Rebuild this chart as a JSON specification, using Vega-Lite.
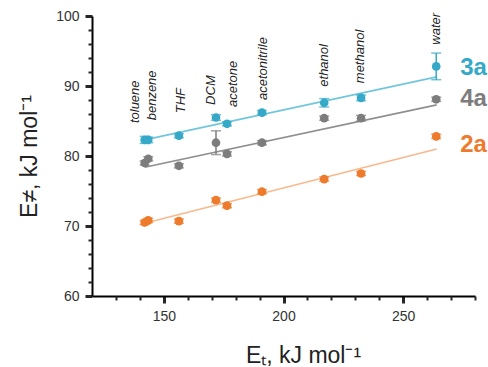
{
  "$schema": "https://vega.github.io/schema/vega-lite/v6.json",
  "width": 383,
  "height": 280,
  "autosize": "none",
  "padding": {"left": 92, "top": 16, "right": 13, "bottom": 71},
  "background": "white",
  "config": {"view": {"stroke": null}, "font": "Liberation Sans", "axis": {"grid": false}},
  "datasets": {
    "points": [
      {"solvent": "toluene", "series": "3a", "ET": 142.0, "E": 82.3, "err": 0.5},
      {"solvent": "benzene", "series": "3a", "ET": 143.5, "E": 82.3, "err": 0.4},
      {"solvent": "THF", "series": "3a", "ET": 156.3, "E": 82.9, "err": 0.3},
      {"solvent": "DCM", "series": "3a", "ET": 171.8, "E": 85.5, "err": 0.4},
      {"solvent": "acetone", "series": "3a", "ET": 176.4, "E": 84.6, "err": 0.3},
      {"solvent": "acetonitrile", "series": "3a", "ET": 191.0, "E": 86.2, "err": 0.3},
      {"solvent": "ethanol", "series": "3a", "ET": 217.0, "E": 87.6, "err": 0.6},
      {"solvent": "methanol", "series": "3a", "ET": 232.4, "E": 88.3, "err": 0.4},
      {"solvent": "water", "series": "3a", "ET": 263.8, "E": 92.8, "err": 1.9},
      {"solvent": "toluene", "series": "4a", "ET": 142.0, "E": 79.0, "err": 0.3},
      {"solvent": "benzene", "series": "4a", "ET": 143.5, "E": 79.6, "err": 0.3},
      {"solvent": "THF", "series": "4a", "ET": 156.3, "E": 78.6, "err": 0.3},
      {"solvent": "DCM", "series": "4a", "ET": 171.8, "E": 81.9, "err": 1.7},
      {"solvent": "acetone", "series": "4a", "ET": 176.4, "E": 80.3, "err": 0.3},
      {"solvent": "acetonitrile", "series": "4a", "ET": 191.0, "E": 81.9, "err": 0.3},
      {"solvent": "ethanol", "series": "4a", "ET": 217.0, "E": 85.4, "err": 0.3},
      {"solvent": "methanol", "series": "4a", "ET": 232.4, "E": 85.4, "err": 0.4},
      {"solvent": "water", "series": "4a", "ET": 263.8, "E": 88.1, "err": 0.3},
      {"solvent": "toluene", "series": "2a", "ET": 142.0, "E": 70.5, "err": 0.3},
      {"solvent": "benzene", "series": "2a", "ET": 143.5, "E": 70.8, "err": 0.3},
      {"solvent": "THF", "series": "2a", "ET": 156.3, "E": 70.7, "err": 0.3},
      {"solvent": "DCM", "series": "2a", "ET": 171.8, "E": 73.7, "err": 0.3},
      {"solvent": "acetone", "series": "2a", "ET": 176.4, "E": 72.9, "err": 0.3},
      {"solvent": "acetonitrile", "series": "2a", "ET": 191.0, "E": 74.9, "err": 0.3},
      {"solvent": "ethanol", "series": "2a", "ET": 217.0, "E": 76.7, "err": 0.3},
      {"solvent": "methanol", "series": "2a", "ET": 232.4, "E": 77.5, "err": 0.3},
      {"solvent": "water", "series": "2a", "ET": 263.8, "E": 82.8, "err": 0.3}
    ],
    "fits": [
      {"series": "3a", "ET": 142.0, "E": 82.3},
      {"series": "3a", "ET": 264.0, "E": 91.3},
      {"series": "4a", "ET": 142.0, "E": 78.4},
      {"series": "4a", "ET": 264.0, "E": 87.3},
      {"series": "2a", "ET": 142.0, "E": 70.4},
      {"series": "2a", "ET": 264.0, "E": 81.0}
    ],
    "solventLabels": [
      {"solvent": "toluene", "ET": 138.0, "E": 84.7},
      {"solvent": "benzene", "ET": 145.2, "E": 85.1},
      {"solvent": "THF", "ET": 157.0, "E": 86.1},
      {"solvent": "DCM", "ET": 169.6, "E": 87.3},
      {"solvent": "acetone", "ET": 178.8, "E": 87.0},
      {"solvent": "acetonitrile", "ET": 191.4, "E": 88.0},
      {"solvent": "ethanol", "ET": 217.0, "E": 89.9},
      {"solvent": "methanol", "ET": 232.0, "E": 90.4},
      {"solvent": "water", "ET": 263.7, "E": 95.9}
    ],
    "seriesLabels": [
      {"series": "3a", "ET": 273.8, "E": 91.6},
      {"series": "4a", "ET": 273.8, "E": 87.1},
      {"series": "2a", "ET": 273.8, "E": 80.6}
    ]
  },
  "layer": [
    {
      "encoding": {
        "x": {
          "field": "ET", "type": "quantitative",
          "scale": {"domain": [120, 280], "nice": false, "zero": false},
          "axis": {
            "values": [150, 200, 250],
            "tickSize": 7,
            "domainColor": "#000000", "domainWidth": 2, "tickColor": "#262626", "tickWidth": 3,
            "labelFontSize": 14, "labelColor": "#333", "labelPadding": 6,
            "title": "Eₜ, kJ mol⁻¹", "titleFontSize": 23, "titleFontWeight": "normal", "titleColor": "#222",
            "titleX": 211, "titleY": 66, "titleBaseline": "alphabetic"
          }
        },
        "y": {
          "field": "E", "type": "quantitative",
          "scale": {"domain": [60, 100], "nice": false, "zero": false},
          "axis": {
            "values": [60, 70, 80, 90, 100],
            "tickSize": 7,
            "domainColor": "#000000", "domainWidth": 2, "tickColor": "#262626", "tickWidth": 3,
            "labelFontSize": 14, "labelColor": "#333", "labelPadding": 6,
            "title": "E≠, kJ mol⁻¹", "titleFontSize": 23, "titleFontWeight": "normal", "titleColor": "#222",
            "titleX": -56, "titleY": 140, "titleBaseline": "alphabetic", "titleAngle": 270
          }
        }
      },
      "layer": [
        {
          "data": {"name": "fits"},
          "mark": {"type": "line", "strokeWidth": 1.6},
          "encoding": {
            "color": {"field": "series", "type": "nominal", "legend": null,
              "scale": {"domain": ["3a", "4a", "2a"], "range": ["#72c6dc", "#8f8f8f", "#f8b98e"]}}
          }
        },
        {
          "data": {"name": "points"},
          "mark": {"type": "errorbar", "ticks": {"size": 10}, "thickness": 1.5},
          "encoding": {
            "yError": {"field": "err"},
            "color": {"field": "series", "type": "nominal", "legend": null,
              "scale": {"domain": ["3a", "4a", "2a"], "range": ["#36a9c8", "#7d7d7d", "#ee7a2c"]}}
          }
        },
        {
          "data": {"name": "points"},
          "mark": {"type": "point", "filled": true, "opacity": 1, "size": 75},
          "encoding": {
            "color": {"field": "series", "type": "nominal", "legend": null,
              "scale": {"domain": ["3a", "4a", "2a"], "range": ["#36a9c8", "#7d7d7d", "#ee7a2c"]}}
          }
        },
        {
          "data": {"name": "solventLabels"},
          "mark": {"type": "text", "angle": 270, "align": "left", "baseline": "middle", "fontSize": 13, "fontStyle": "italic", "color": "#222"},
          "encoding": {"text": {"field": "solvent"}}
        },
        {
          "data": {"name": "seriesLabels"},
          "mark": {"type": "text", "align": "left", "baseline": "alphabetic", "fontSize": 24, "fontWeight": "bold", "clip": false},
          "encoding": {
            "text": {"field": "series"},
            "color": {"field": "series", "type": "nominal", "legend": null,
              "scale": {"domain": ["3a", "4a", "2a"], "range": ["#36a9c8", "#7d7d7d", "#ee7a2c"]}}
          }
        }
      ],
      "resolve": {"scale": {"color": "independent"}}
    },
    {
      "data": {"name": "fits"},
      "mark": {"type": "line", "opacity": 0},
      "encoding": {
        "x": {
          "field": "ET", "type": "quantitative",
          "axis": {
            "orient": "bottom",
            "values": [130, 140, 160, 170, 180, 190, 210, 220, 230, 240, 260, 270, 280],
            "tickSize": 4, "tickColor": "#262626", "tickWidth": 2,
            "labels": false, "domain": false, "title": null
          }
        },
        "y": {
          "field": "E", "type": "quantitative",
          "axis": {
            "orient": "left",
            "values": [62, 64, 66, 68, 72, 74, 76, 78, 82, 84, 86, 88, 92, 94, 96, 98],
            "tickSize": 4, "tickColor": "#262626", "tickWidth": 2,
            "labels": false, "domain": false, "title": null
          }
        }
      }
    }
  ],
  "resolve": {"axis": {"x": "independent", "y": "independent"}}
}
